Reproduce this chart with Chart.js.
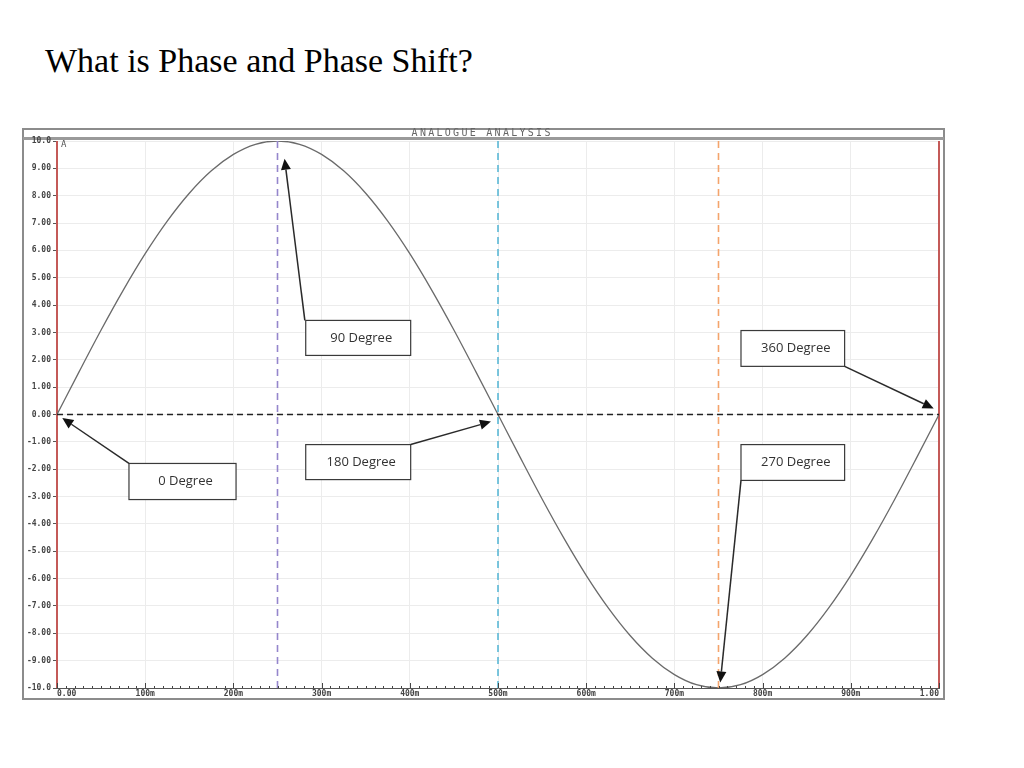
<!DOCTYPE html>
<html>
<head>
<meta charset="utf-8">
<script src="https://cdn.jsdelivr.net/npm/chart.js@4"></script>
<style>
  html, body { margin: 0; padding: 0; background: #fff; }
  body { width: 1024px; height: 768px; position: relative; overflow: hidden; }
  h1 {
    position: absolute; left: 45px; top: 42px; margin: 0;
    font: normal 34px "Liberation Serif", "Times New Roman", serif; color: #000;
  }
  #wrap { position: absolute; left: 22px; top: 128px; width: 923px; height: 572px; }
</style>
</head>
<body>
<h1>What is Phase and Phase Shift?</h1>
<div id="wrap"><canvas id="chart"></canvas></div>
<script>
// time (s) and current (A)
const times = [0, 0.025, 0.05, 0.075, 0.1, 0.125, 0.15, 0.175, 0.2, 0.225,
  0.25, 0.275, 0.3, 0.325, 0.35, 0.375, 0.4, 0.425, 0.45, 0.475,
  0.5, 0.525, 0.55, 0.575, 0.6, 0.625, 0.65, 0.675, 0.7, 0.725,
  0.75, 0.775, 0.8, 0.825, 0.85, 0.875, 0.9, 0.925, 0.95, 0.975, 1.0];
const current = [0, 1.56, 3.09, 4.54, 5.88, 7.07, 8.09, 8.91, 9.51, 9.88,
  10.0, 9.88, 9.51, 8.91, 8.09, 7.07, 5.88, 4.54, 3.09, 1.56,
  0, -1.56, -3.09, -4.54, -5.88, -7.07, -8.09, -8.91, -9.51, -9.88,
  -10.0, -9.88, -9.51, -8.91, -8.09, -7.07, -5.88, -4.54, -3.09, -1.56, 0];

const xTickLabels = ['0.00', '100m', '200m', '300m', '400m', '500m', '600m', '700m', '800m', '900m', '1.00'];
// bottom to top
const yTickLabels = ['-10.0', '-9.00', '-8.00', '-7.00', '-6.00', '-5.00', '-4.00', '-3.00', '-2.00', '-1.00',
  '0.00', '1.00', '2.00', '3.00', '4.00', '5.00', '6.00', '7.00', '8.00', '9.00', '10.0'];

const phaseMarks = [0.25, 0.5, 0.75];
const phaseColors = ['#9586cc', '#5bb8d6', '#f4a46c'];
const edgeMarks = [0, 1];

// callout boxes: [x1, yTop, x2, yBottom] in data units, arrow from -> to
const callouts = [
  { text: '0 Degree',   box: [0.0816, -1.79, 0.203, -3.11], from: [0.0816, -1.79], to: [0.006, -0.13] },
  { text: '90 Degree',  box: [0.282, 3.44, 0.401, 2.16],   from: [0.281, 3.44],   to: [0.258, 9.35] },
  { text: '180 Degree', box: [0.282, -1.10, 0.401, -2.38], from: [0.401, -1.10],  to: [0.492, -0.26] },
  { text: '360 Degree', box: [0.7755, 3.07, 0.893, 1.76],  from: [0.893, 1.76],   to: [0.994, 0.22] },
  { text: '270 Degree', box: [0.7755, -1.10, 0.893, -2.41], from: [0.7755, -2.41], to: [0.752, -9.8] }
];

const datasets = [];
phaseMarks.forEach((t, i) => datasets.push({
  data: [{ x: t, y: -10 }, { x: t, y: 10 }],
  borderColor: phaseColors[i], borderWidth: 1.6, borderDash: [7, 5], pointRadius: 0, showLine: true
}));
datasets.push({
  data: [{ x: 0, y: 0 }, { x: 1, y: 0 }],
  borderColor: '#222', borderWidth: 1.6, borderDash: [6, 4], pointRadius: 0, showLine: true
});
datasets.push({
  data: times.map((t, i) => ({ x: t, y: current[i] })),
  borderColor: '#6a6a6a', borderWidth: 1.3, pointRadius: 0, showLine: true,
  cubicInterpolationMode: 'monotone'
});
edgeMarks.forEach(t => datasets.push({
  data: [{ x: t, y: -10 }, { x: t, y: 10 }],
  borderColor: '#c45a58', borderWidth: 2, pointRadius: 0, showLine: true, clip: 4
}));

const framePlugin = {
  id: 'frame',
  beforeDraw(chart) {
    const ctx = chart.ctx, w = chart.width, h = chart.height;
    ctx.save();
    ctx.strokeStyle = '#8c8c8c';
    ctx.lineWidth = 2;
    ctx.strokeRect(1, 1, w - 2, h - 2);
    ctx.lineWidth = 3;
    ctx.strokeStyle = '#9a9a9a';
    ctx.beginPath(); ctx.moveTo(1, 10.5); ctx.lineTo(w - 1, 10.5); ctx.stroke();
    ctx.fillStyle = '#666';
    ctx.font = '10px "DejaVu Sans Mono", monospace';
    ctx.textAlign = 'center'; ctx.textBaseline = 'middle';
    const label = 'ANALOGUE ANALYSIS', step = 8.3;
    const x0 = 459 - (label.length - 1) * step / 2;
    for (let i = 0; i < label.length; i++) ctx.fillText(label[i], x0 + i * step, 5.5);
    ctx.restore();
  },
  afterDraw(chart) {
    const ctx = chart.ctx, xs = chart.scales.x, ys = chart.scales.y;
    const area = chart.chartArea;
    ctx.save();
    // minor ticks on the time axis
    ctx.strokeStyle = '#444'; ctx.lineWidth = 1;
    for (let k = 0; k <= 100; k++) {
      const px = Math.round(xs.getPixelForValue(k / 100)) + 0.5;
      const len = k % 10 === 0 ? 5 : 2;
      ctx.beginPath(); ctx.moveTo(px, area.bottom); ctx.lineTo(px, area.bottom - len); ctx.stroke();
    }
    ctx.fillStyle = '#555';
    ctx.font = '9px "DejaVu Sans Mono", monospace';
    ctx.textAlign = 'left'; ctx.textBaseline = 'middle';
    ctx.fillText('A', area.left + 4, area.top + 4);

    // callouts
    ctx.font = '13px "Open Sans", "Noto Sans", sans-serif';
    callouts.forEach(c => {
      const x1 = xs.getPixelForValue(c.box[0]), y1 = ys.getPixelForValue(c.box[1]);
      const x2 = xs.getPixelForValue(c.box[2]), y2 = ys.getPixelForValue(c.box[3]);
      ctx.fillStyle = '#fff';
      ctx.fillRect(x1, y1, x2 - x1, y2 - y1);
      ctx.strokeStyle = '#3a3a3a'; ctx.lineWidth = 1.2;
      ctx.strokeRect(x1, y1, x2 - x1, y2 - y1);
      ctx.fillStyle = '#333';
      ctx.textAlign = 'center'; ctx.textBaseline = 'middle';
      ctx.fillText(c.text, (x1 + x2) / 2 + 3, (y1 + y2) / 2);

      const fx = xs.getPixelForValue(c.from[0]), fy = ys.getPixelForValue(c.from[1]);
      const tx = xs.getPixelForValue(c.to[0]), ty = ys.getPixelForValue(c.to[1]);
      const ang = Math.atan2(ty - fy, tx - fx);
      const head = 11, half = 5;
      const bx = tx - head * Math.cos(ang), by = ty - head * Math.sin(ang);
      ctx.strokeStyle = '#2a2a2a'; ctx.lineWidth = 1.5;
      ctx.beginPath(); ctx.moveTo(fx, fy); ctx.lineTo(bx, by); ctx.stroke();
      ctx.fillStyle = '#111';
      ctx.beginPath();
      ctx.moveTo(tx, ty);
      ctx.lineTo(bx + half * Math.sin(ang), by - half * Math.cos(ang));
      ctx.lineTo(bx - half * Math.sin(ang), by + half * Math.cos(ang));
      ctx.closePath(); ctx.fill();
    });
    ctx.restore();
  }
};

new Chart(document.getElementById('chart'), {
  type: 'scatter',
  data: { datasets },
  plugins: [framePlugin],
  options: {
    responsive: true,
    maintainAspectRatio: false,
    animation: false,
    layout: { padding: { left: 0, top: 13, right: 6, bottom: 0 } },
    plugins: { legend: { display: false }, tooltip: { enabled: false } },
    scales: {
      x: {
        type: 'linear', min: 0, max: 1,
        afterFit(scale) { scale.height = 12; },
        ticks: {
          stepSize: 0.1, maxRotation: 0, autoSkip: false, padding: 1, align: 'inner',
          font: { family: '"DejaVu Sans Mono", monospace', size: 8, weight: 'bold' }, color: '#444',
          callback: (v, i) => xTickLabels[i]
        },
        grid: { color: '#ececec', lineWidth: 1, drawTicks: false },
        border: { display: true, color: '#555', width: 1 }
      },
      y: {
        type: 'linear', min: -10, max: 10,
        afterFit(scale) { scale.width = 35; },
        ticks: {
          stepSize: 1, autoSkip: false, padding: 2,
          font: { family: '"DejaVu Sans Mono", monospace', size: 8, weight: 'bold' }, color: '#444',
          callback: v => yTickLabels[Math.round(v) + 10]
        },
        grid: { color: '#ececec', lineWidth: 1, tickLength: 4, tickColor: '#555' },
        border: { display: true, color: '#555', width: 1 }
      }
    }
  }
});
</script>
</body>
</html>
